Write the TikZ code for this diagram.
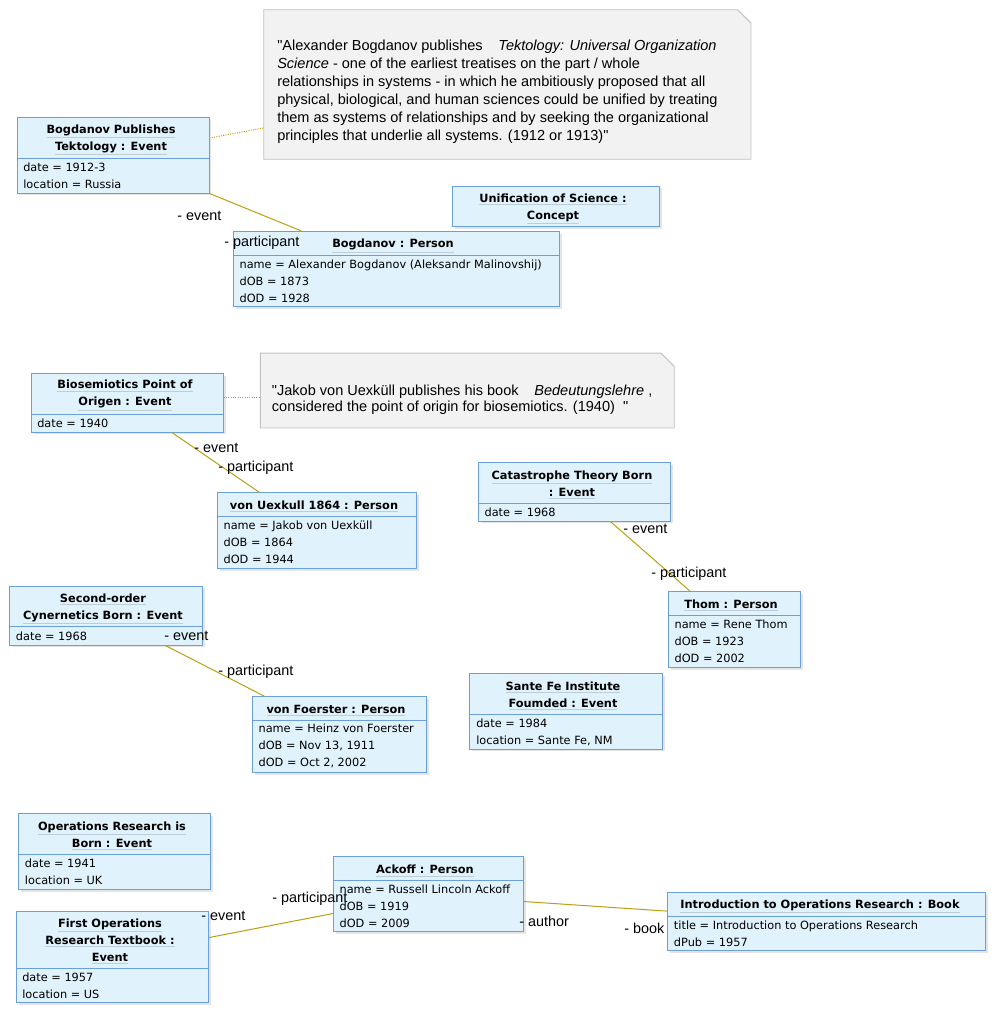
\documentclass[tikz,border=0pt]{standalone}
\usepackage{fontspec}
\setmainfont{Liberation Sans}
\newfontfamily\objfont{DejaVu Sans}
\usetikzlibrary{positioning, calc, fit, shadows}
\definecolor{objFill}{HTML}{E0F2FC}
\definecolor{objBorder}{HTML}{6A9FDB}
\definecolor{objUnder}{HTML}{BFCCDA}
\definecolor{noteFill}{HTML}{F2F2F2}
\definecolor{noteBorder}{HTML}{C2C2C2}
\definecolor{linkGold}{HTML}{B89F14}
\newcommand{\ttlul}[1]{{\color{objUnder}\underline{\color{black}#1}}}

\begin{document}
\begin{tikzpicture}[x=0.75pt, y=-0.75pt,
  objbox/.style={draw=objBorder, fill=objFill, line width=0.65pt, inner sep=0pt,
    drop shadow={shadow xshift=1.8pt, shadow yshift=-1.8pt, fill=black!40, opacity=0.25}},
  objsep/.style={draw=objBorder, line width=0.65pt},
  objtitle/.style={font=\objfont\bfseries\fontsize{8.5}{12.75}\selectfont, align=center, inner sep=0pt, yshift=-1.5pt},
  objattr/.style={font=\objfont\fontsize{8.5}{12.75}\selectfont, align=left, anchor=west, inner sep=0pt},
  notebox/.style={inner sep=0pt},
  noteshape/.style={draw=noteBorder, fill=noteFill, line width=0.7pt},
  notetext/.style={font=\fontsize{10.9}{13.5}\selectfont, align=left, anchor=west, inner sep=0pt},
  rolelabel/.style={font=\fontsize{10.8}{13}\selectfont, anchor=west, inner sep=0pt},
  link/.style={draw=linkGold, line width=0.75pt},
  notelink/.style={draw=linkGold, line width=0.75pt, densely dotted}]
  \useasboundingbox (0,0) rectangle (999,1018);

  % Tektology note
  \node[notebox, fit={(264,10) (750.7,159)}] (tekNote) {};
  \draw[noteshape] (tekNote.north west) -- ([xshift=-10pt]tekNote.north east)
    -- ([yshift=-10pt]tekNote.north east) -- (tekNote.south east) -- (tekNote.south west) -- cycle;
  \node[notetext] (tekText) at (277,92) {\textquotedbl Alexander Bogdanov publishes \hspace{0.8em}\textit{Tektology: Universal Organization}\\
    \textit{Science} - one of the earliest treatises on the part / whole\\
    relationships in systems - in which he ambitiously proposed that all\\
    physical, biological, and human sciences could be unified by treating\\
    them as systems of relationships and by seeking the organizational\\
    principles that underlie all systems. (1912 or 1913)\textquotedbl};

  % Bogdanov
  \node[objbox, fit={(17,117) (209,193)}] (bogpub) {};
  \draw[objsep] (17,158) -- (209,158);
  \node[objtitle] (bogpubT) at (111,138) {\ttlul{Bogdanov Publishes}\\\ttlul{Tektology : Event}};
  \node[objattr] (bogpubA) at (23,175.5) {date = 1912-3\\location = Russia};

  \node[objbox, fit={(452.7,186) (659.3,226.7)}] (unisci) {};
  \node[objtitle] (unisciT) at (553,207) {\ttlul{Unification of Science :}\\\ttlul{Concept}};

  \node[objbox, fit={(233.3,231.3) (559.3,306.7)}] (bogdanov) {};
  \draw[objsep] (233.3,255.3) -- (559.3,255.3);
  \node[objtitle] (bogdanovT) at (393,244) {\ttlul{Bogdanov : Person}};
  \node[objattr] (bogdanovA) at (239.3,281.5) {name = Alexander Bogdanov (Aleksandr Malinovshij)\\dOB = 1873\\dOD = 1928};

  % Biosemiotics note
  \node[notebox, fit={(260.7,353.3) (674,427.7)}] (bioNote) {};
  \draw[noteshape] (bioNote.north west) -- ([xshift=-10pt]bioNote.north east)
    -- ([yshift=-10pt]bioNote.north east) -- (bioNote.south east) -- (bioNote.south west) -- cycle;
  \node[notetext, font=\fontsize{10.9}{11.8}\selectfont] (bioText) at (271.7,399.5) {\textquotedbl Jakob von Uexküll publishes his book \hspace{0.8em}\textit{Bedeutungslehre} ,\\
    considered the point of origin for biosemiotics. (1940)\ \ \textquotedbl};

  % von Uexkull
  \node[objbox, fit={(31.7,373.3) (223.3,432)}] (biosem) {};
  \draw[objsep] (31.7,414.7) -- (223.3,414.7);
  \node[objtitle] (biosemT) at (125,393.7) {\ttlul{Biosemiotics Point of}\\\ttlul{Origen : Event}};
  \node[objattr] (biosemA) at (37,423.3) {date = 1940};

  \node[objbox, fit={(217.7,492.7) (416.7,568.3)}] (uexkull) {};
  \draw[objsep] (217.7,516.7) -- (416.7,516.7);
  \node[objtitle] (uexkullT) at (314,504.3) {\ttlul{von Uexkull 1864 : Person}};
  \node[objattr] (uexkullA) at (223.3,542) {name = Jakob von Uexküll\\dOB = 1864\\dOD = 1944};

  % Thom
  \node[objbox, fit={(478.3,462.7) (670.7,521)}] (catas) {};
  \draw[objsep] (478.3,503.3) -- (670.7,503.3);
  \node[objtitle] (catasT) at (572,483) {\ttlul{Catastrophe Theory Born}\\\ttlul{: Event}};
  \node[objattr] (catasA) at (484.3,512.3) {date = 1968};

  \node[objbox, fit={(668.3,591.3) (800.7,667.3)}] (thom) {};
  \draw[objsep] (668.3,615.3) -- (800.7,615.3);
  \node[objtitle] (thomT) at (731,603.3) {\ttlul{Thom : Person}};
  \node[objattr] (thomA) at (674.3,641.3) {name = Rene Thom\\dOB = 1923\\dOD = 2002};

  % von Foerster
  \node[objbox, fit={(9.3,586) (202.7,645)}] (secorder) {};
  \draw[objsep] (9.3,626.3) -- (202.7,626.3);
  \node[objtitle] (secorderT) at (103,606.8) {\ttlul{Second-order}\\\ttlul{Cynernetics Born : Event}};
  \node[objattr] (secorderA) at (15.7,636.3) {date = 1968};

  \node[objbox, fit={(252.7,696.7) (426.7,772.7)}] (foerster) {};
  \draw[objsep] (252.7,720) -- (426.7,720);
  \node[objtitle] (foersterT) at (336,708.3) {\ttlul{von Foerster : Person}};
  \node[objattr] (foersterA) at (258.3,746) {name = Heinz von Foerster\\dOB = Nov 13, 1911\\dOD = Oct 2, 2002};

  \node[objbox, fit={(469.3,673.3) (662.7,749)}] (santefe) {};
  \draw[objsep] (469.3,714.3) -- (662.7,714.3);
  \node[objtitle] (santefeT) at (563,694.2) {\ttlul{Sante Fe Institute}\\\ttlul{Foumded : Event}};
  \node[objattr] (santefeA) at (476,732.7) {date = 1984\\location = Sante Fe, NM};

  % Ackoff
  \node[objbox, fit={(18.3,813.3) (210.7,889.3)}] (opsborn) {};
  \draw[objsep] (18.3,854.3) -- (210.7,854.3);
  \node[objtitle] (opsbornT) at (112,834) {\ttlul{Operations Research is}\\\ttlul{Born : Event}};
  \node[objattr] (opsbornA) at (24.7,872) {date = 1941\\location = UK};

  \node[objbox, fit={(16.7,911.7) (208.7,1002.3)}] (firstops) {};
  \draw[objsep] (16.7,968.3) -- (208.7,968.3);
  \node[objtitle] (firstopsT) at (110,939.5) {\ttlul{First Operations}\\\ttlul{Research Textbook :}\\\ttlul{Event}};
  \node[objattr] (firstopsA) at (22,986) {date = 1957\\location = US};

  \node[objbox, fit={(333.3,856) (523.3,931.7)}] (ackoff) {};
  \draw[objsep] (333.3,880) -- (523.3,880);
  \node[objtitle] (ackoffT) at (425,869) {\ttlul{Ackoff : Person}};
  \node[objattr] (ackoffA) at (339.3,906.4) {name = Russell Lincoln Ackoff\\dOB = 1919\\dOD = 2009};

  \node[objbox, fit={(667.3,892.7) (985.7,950.7)}] (book) {};
  \draw[objsep] (667.3,916.7) -- (985.7,916.7);
  \node[objtitle] (bookT) at (820,904.3) {\ttlul{Introduction to Operations Research : Book}};
  \node[objattr] (bookA) at (673.7,934) {title = Introduction to Operations Research\\dPub = 1957};

  % Links
  \draw[notelink] ($(bogpub.north east)!.28!(bogpub.south east)$) -- ($(tekNote.north west)!.79!(tekNote.south west)$);
  \draw[notelink] ($(biosem.north east)!.42!(biosem.south east)$) coordinate (bioDot) -- (bioNote.west |- bioDot);
  \draw[link] (bogpub.south east) -- ($(bogdanov.north west)!.209!(bogdanov.north east)$);
  \draw[link] ($(biosem.south west)!.73!(biosem.south east)$) -- ($(uexkull.north west)!.21!(uexkull.north east)$);
  \draw[link] ($(catas.south west)!.685!(catas.south east)$) -- ($(thom.north west)!.164!(thom.north east)$);
  \draw[link] ($(secorder.south west)!.805!(secorder.south east)$) -- ($(foerster.north west)!.07!(foerster.north east)$);
  \draw[link] ($(firstops.north east)!.287!(firstops.south east)$) -- ($(ackoff.north west)!.757!(ackoff.south west)$);
  \draw[link] ($(ackoff.north east)!.6!(ackoff.south east)$) -- ($(book.north west)!.32!(book.south west)$);

  % Role labels
  \node[rolelabel] (c1Event) at (177,216) {- event};
  \node[rolelabel] (c1Part) at (224,243) {- participant};
  \node[rolelabel] (c2Event) at (194,448) {- event};
  \node[rolelabel] (c2Part) at (218,468) {- participant};
  \node[rolelabel] (c3Event) at (623,529) {- event};
  \node[rolelabel] (c3Part) at (651,574) {- participant};
  \node[rolelabel] (c4Event) at (164,636) {- event};
  \node[rolelabel] (c4Part) at (218,672) {- participant};
  \node[rolelabel] (c5Event) at (201,916) {- event};
  \node[rolelabel] (c5Part) at (272,899) {- participant};
  \node[rolelabel] (c6Author) at (519,921) {- author};
  \node[rolelabel] (c6Book) at (624,928) {- book};
\end{tikzpicture}
\end{document}
